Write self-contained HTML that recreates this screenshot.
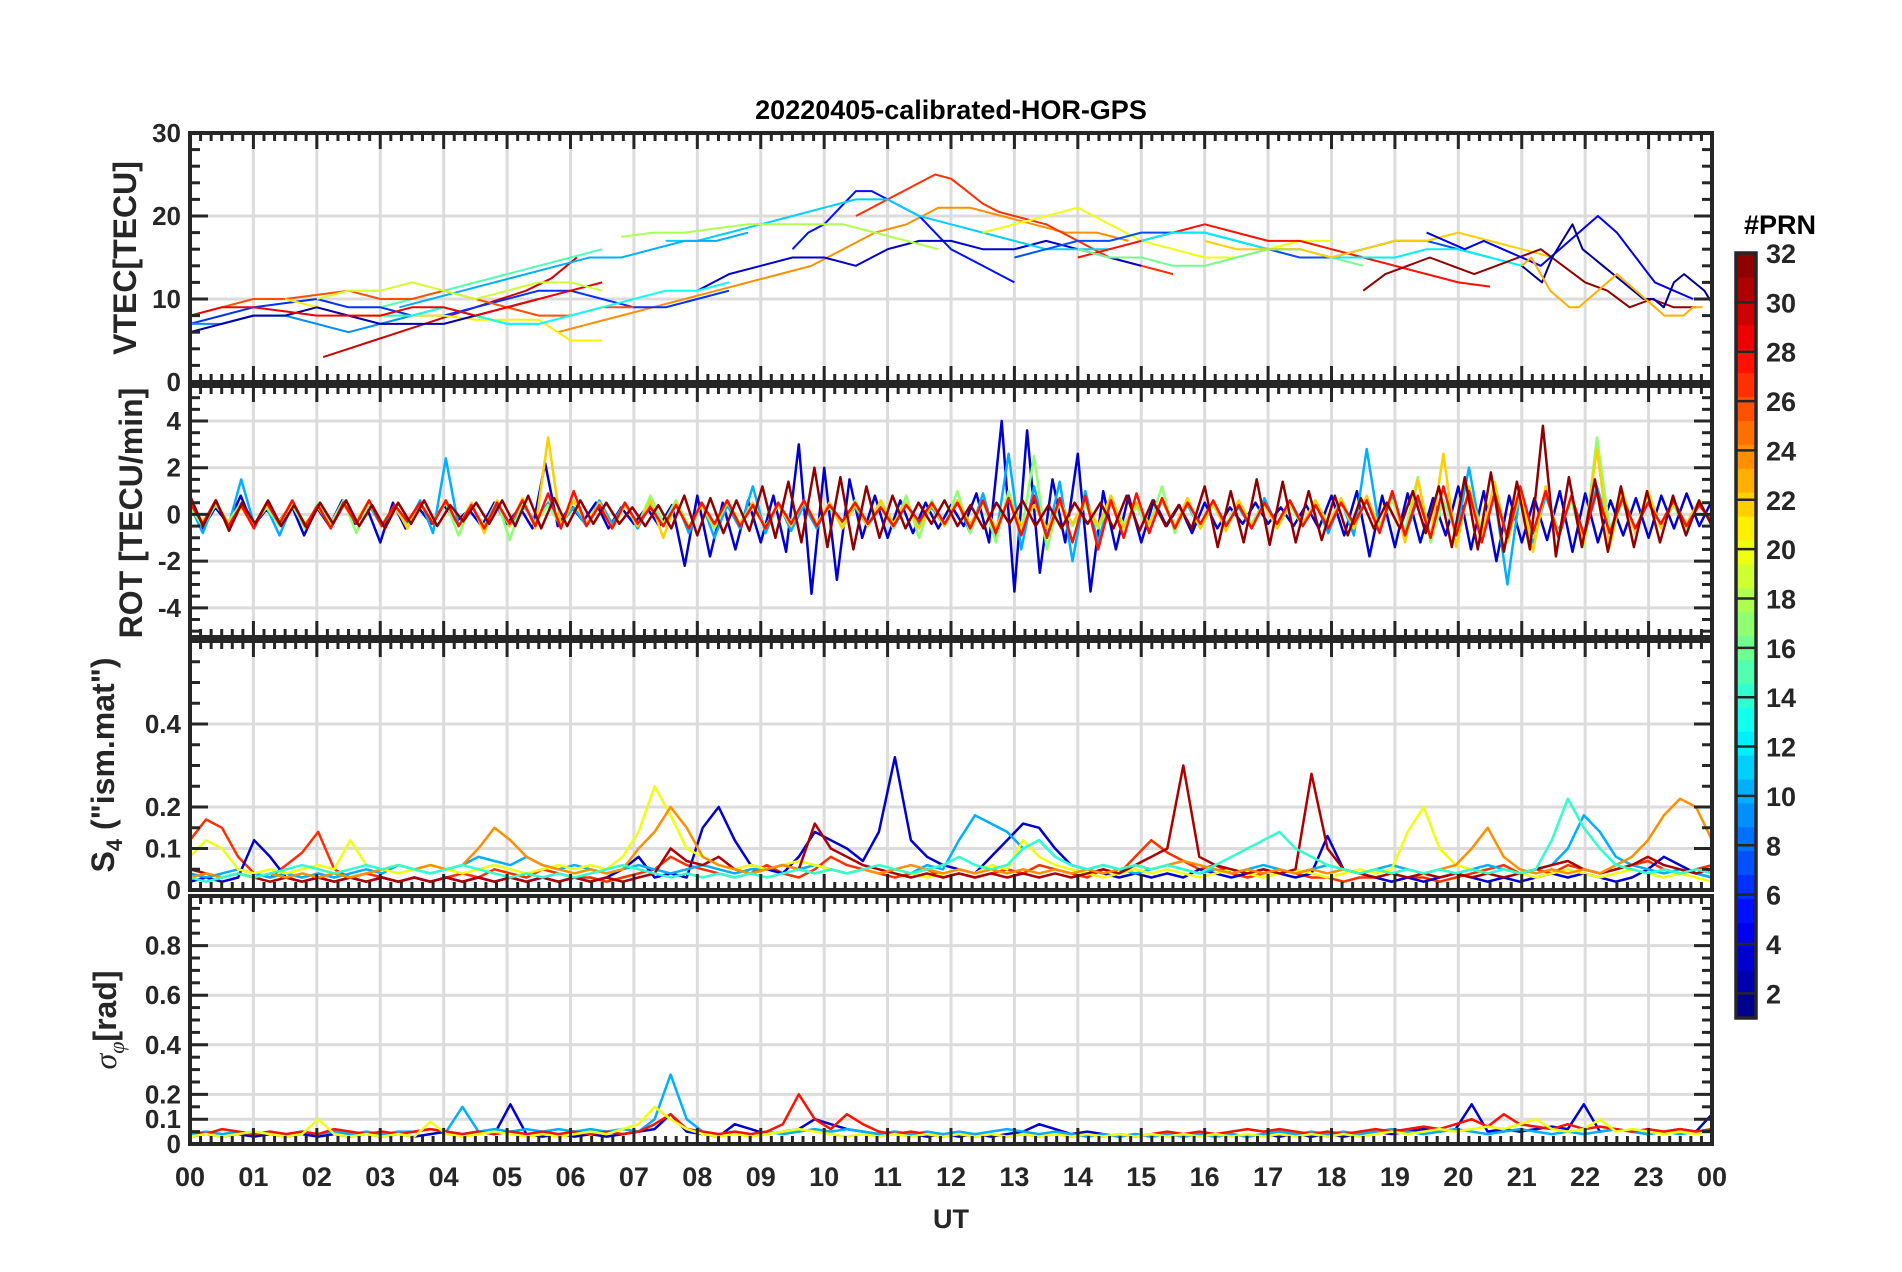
<!DOCTYPE html>
<html><head><meta charset="utf-8">
<style>
html,body{margin:0;padding:0;background:#fff;}
svg{display:block;font-family:"Liberation Sans",sans-serif;font-weight:bold;}
</style></head>
<body>
<svg id="fig" width="1902" height="1272" viewBox="0 0 1902 1272"></svg>
<script>
// ---------- data ----------
const hourLabels = ["00","01","02","03","04","05","06","07","08","09","10","11","12","13","14","15","16","17","18","19","20","21","22","23","00"];
const prnTicks = [2,4,6,8,10,12,14,16,18,20,22,24,26,28,30,32];
const vtecTicks = [0,10,20,30];
const rotTicks = [-4,-2,0,2,4];
const s4Ticks = [0,0.1,0.2,0.4];
const sigTicks = [0,0.1,0.2,0.4,0.6,0.8];

// VTEC arcs: prn, start hour, step hour, values
const vtecPrn = [30,24,27,5,3,11,18,20,15,6,26,9,21,13,2,29,7,28,16,12,22,32,4,1,23,10,19];
const vtecT0 =  [2.1,5.8,10.5,9.5,8,7.5,6.8,12.5,3,0,0,0,1.5,3,0,0,13,14,14,15,16,18.5,19.5,21,21,3.3,2];
const vtecStep =[0.4,0.5,0.25,0.25,0.5,0.5,0.5,0.5,0.5,0.5,0.5,0.5,0.5,0.5,0.5,0.5,0.5,0.5,0.5,0.5,0.5,0.35,0.3,0.16,0.15,0.5,0.5];
const vtecVals = [
 [3,4,5,6,7,8,9,10,11,12.5,15],
 [6,7,8,9,10,11,12,13,14,16,18,19,21,21,20,19,18,18,17],
 [20,21,22,23,24,25,24.5,23,21.5,20.5,20,19.5,19,18,17,16,15,14.5,14,13.5,13],
 [16,18,19,21,23,23,22,21,20,18,16,15,14,13,12],
 [11,13,14,15,15,14,16,17,17,16,16,17,16,15,14],
 [17,17,18,19,20,21,22,22,20,19,18,17,16,16,16],
 [17.5,18,18,18.5,19,19,19,19,18,17,16],
 [18,19,20,21,19,17,16,15,15,16,17,17],
 [9,10,11,12,13,14,15,16],
 [7,8,9,9.5,10,9,9,8,8,9,10,11,11,10,9,9,10,11],
 [8,9,10,10,10.5,11,10,10,11,10,9,8,8,9,9],
 [7,7,8,8,7,6,7,8,9,8,7,7],
 [10,9,8,8,8,8,7.5,7.5,7.5,5,5],
 [8,8,9,8,7,7,8,9,10,11,11,12],
 [6,7,8,8,9,8,7,7,7,8,9,10],
 [8,9,9,8.5,8,8,8,9,9,8,9,10,11,12],
 [15,16,17,17,18,18,18,17,16,15,15,16,17,17,16,15],
 [15,16,17,18,19,18,17,17,16,15,14,13,12,11.5],
 [16,15,15,14,14,15,16,16,15,14],
 [17,18,18,17,16,16,15,15,15,16,16,15,14],
 [17,16,16,16,15,16,17,17,18,17,16,15],
 [11,13,14,15,14,13,14,15,16,14,12,11,9,10,9,9],
 [18,17,16,17,16,15,14,16,18,20,18,15,12,11,10],
 [14,13,12,15,17,19,16,15,14,13,12,11,10,10,9,12,13,12,11,9],
 [14,15,13,11,10,9,9,10,11,12,13,12,11,10,9,8,8,8,9,9],
 [9,10,11,12,13,14,15,15,16,17,17,18],
 [10,11,11,12,11,10,11,12,12,11]
];

// ROT series: prn, values every 0.2 h from 0 to 24
const rotPrn = [3,10,17,22,28,32];
const rotVals = [
 [0.5,-0.6,0.3,-0.4,0.8,-0.5,0.2,-0.3,0.4,-0.9,0.3,-0.5,0.6,-0.4,0.2,-1.2,0.5,-0.6,0.3,-0.4,0.4,-0.3,0.2,-0.5,0.5,-0.4,0.3,-0.6,2.2,-0.5,0.4,-0.3,0.5,-0.6,0.3,-0.4,0.3,-0.5,0.4,-2.2,0.8,-1.8,0.5,-1.5,0.6,-1.2,0.8,-1.6,3.0,-3.4,2.0,-2.8,1.5,-1.0,0.8,-1.0,0.6,-0.8,0.5,-0.6,0.4,-0.5,0.9,-1.2,4.0,-3.3,3.6,-2.5,1.5,-1.2,2.6,-3.3,1.0,-1.5,0.8,-1.2,0.6,-0.5,0.4,-0.8,0.5,-0.6,0.3,-0.4,0.5,-0.4,0.3,-0.5,0.4,-0.6,0.8,-0.9,1.0,-1.8,0.8,-1.4,0.9,-1.2,0.7,-0.9,1.2,-1.5,1.0,-2.0,0.8,-1.2,0.7,-1.1,1.0,-1.6,0.9,-1.2,0.6,-0.9,0.7,-1.0,0.8,-0.6,0.9,-0.5,0.6],
 [0.4,-0.8,0.6,-0.5,1.5,-0.4,0.3,-0.9,0.4,-0.5,0.3,-0.4,0.5,-0.3,0.4,-0.5,0.3,-0.4,0.6,-0.8,2.4,-0.5,0.4,-0.6,0.3,-0.5,0.4,-0.3,0.5,-0.4,0.3,-0.5,0.6,-0.4,0.5,-0.6,0.4,-0.5,0.6,-0.8,0.5,-1.0,0.4,-0.6,1.2,-0.8,0.5,-0.7,0.4,-0.6,0.5,-0.4,0.3,-0.5,0.4,-0.6,0.5,-0.4,0.3,-0.5,0.6,-0.8,0.9,-1.0,2.6,-1.5,1.2,-1.0,1.4,-2.0,1.0,-1.2,0.8,-0.6,0.5,-0.7,0.6,-0.5,0.4,-0.6,0.5,-0.4,0.3,-0.6,0.7,-0.5,0.6,-0.4,0.5,-0.8,0.6,-0.9,2.8,-0.6,0.8,-1.0,0.7,-0.9,0.6,-0.8,2.0,-1.0,0.8,-3.0,1.0,-1.2,0.8,-0.7,0.6,-0.9,1.2,-0.6,0.5,-0.7,0.6,-0.5,0.4,-0.6,0.5,-0.4],
 [0.3,-0.5,0.4,-0.3,0.5,-0.4,0.3,-0.5,0.4,-0.6,0.5,-0.4,0.6,-0.8,0.5,-0.4,0.3,-0.5,0.4,-0.3,0.5,-0.9,0.4,-0.5,0.6,-1.1,0.5,-0.4,0.4,-0.5,0.6,-0.4,0.5,-0.6,0.4,-0.5,0.8,-0.4,0.6,-0.5,0.4,-0.6,0.5,-0.4,0.3,-0.5,0.4,-0.3,0.5,-0.4,0.3,-0.5,0.6,-0.4,0.5,-0.6,0.8,-1.0,0.6,-0.5,1.0,-0.8,0.6,-1.2,1.0,-0.8,2.5,-1.5,0.6,-0.5,0.4,-0.6,0.5,-0.4,0.3,-0.5,1.2,-0.8,0.5,-0.6,0.4,-0.5,0.6,-0.4,0.5,-0.6,0.4,-0.5,0.6,-0.4,0.5,-0.6,0.7,-0.5,0.6,-0.7,1.6,-1.2,0.6,-0.8,0.9,-0.6,0.7,-0.9,0.8,-1.0,1.0,-0.8,0.6,-1.4,3.3,-0.6,0.5,-0.7,0.6,-0.5,0.4,-0.6,0.5,-0.4],
 [0.4,-0.3,0.5,-0.4,0.3,-0.5,0.4,-0.3,0.5,-0.4,0.3,-0.5,0.4,-0.3,0.6,-0.5,0.4,-0.6,0.5,-0.4,0.6,-0.5,0.5,-0.8,0.6,-0.5,0.7,-0.6,3.3,-0.5,0.6,-0.4,0.5,-0.6,0.4,-0.5,0.6,-1.0,0.5,-0.6,0.4,-0.5,0.6,-0.4,0.5,-0.6,0.4,-0.5,0.6,-0.4,0.5,-0.6,0.4,-0.5,0.6,-0.4,0.5,-0.6,0.4,-0.5,0.6,-0.4,0.5,-0.6,0.7,-0.5,0.4,-0.6,0.5,-0.4,0.6,-0.5,0.8,-0.6,0.5,-0.4,0.6,-0.5,0.7,-0.6,0.5,-0.7,0.6,-0.5,0.4,-0.6,0.5,-0.4,0.6,-0.5,0.7,-0.6,0.8,-0.7,1.0,-1.2,1.5,-1.0,2.6,-1.4,1.2,-1.0,1.4,-1.2,1.0,-1.6,1.2,-1.0,0.8,-1.2,2.8,-1.4,1.0,-0.8,1.0,-0.6,0.5,-0.4,0.6,-0.5],
 [0.5,-0.4,0.6,-0.5,0.4,-0.6,0.5,-0.4,0.6,-0.5,0.4,-0.6,0.5,-0.4,0.6,-0.5,0.4,-0.3,0.5,-0.4,0.6,-0.5,0.4,-0.6,0.5,-0.4,0.6,-0.5,0.9,-0.6,1.0,-0.5,0.4,-0.6,0.5,-0.4,0.3,-0.5,0.4,-0.6,0.5,-0.4,0.6,-0.5,0.4,-0.6,0.5,-0.4,0.6,-0.5,0.4,-0.3,0.5,-0.4,0.3,-0.5,0.4,-0.3,0.5,-0.4,0.5,-0.6,0.6,-0.8,0.7,-0.9,0.8,-1.0,0.7,-1.2,0.8,-1.5,0.6,-1.0,0.9,-0.8,0.7,-0.6,0.5,-0.4,0.6,-0.5,0.4,-0.6,0.5,-0.4,0.6,-0.5,0.4,-0.6,0.5,-0.4,0.6,-0.8,1.0,-0.9,0.8,-1.0,1.2,-0.9,1.0,-1.2,0.9,-1.0,1.2,-0.8,1.0,-1.0,0.8,-0.9,1.0,-0.8,0.7,-0.6,0.5,-0.4,0.6,-0.5,0.4,-0.3],
 [0.8,-0.5,0.6,-0.7,0.5,-0.4,0.6,-0.5,0.4,-0.6,0.5,-0.4,0.6,-0.5,0.4,-0.6,0.5,-0.4,0.6,-0.5,0.4,-0.3,0.5,-0.4,0.6,-0.5,0.8,-0.6,0.7,-0.5,0.6,-0.4,0.5,-0.4,0.3,-0.5,0.4,-0.6,0.8,-0.9,0.7,-0.8,0.6,-0.7,1.2,-1.0,1.4,-1.2,2.0,-1.4,1.6,-1.5,1.2,-1.0,0.8,-0.6,0.5,-0.4,0.6,-0.5,0.4,-0.6,0.5,-0.4,0.6,-0.5,0.4,-0.6,0.5,-0.4,0.5,-0.6,0.8,-0.7,0.6,-0.5,0.4,-0.6,1.2,-1.4,1.0,-1.2,1.5,-1.3,1.4,-1.2,1.0,-1.1,0.8,-0.9,0.7,-0.6,0.5,-0.6,1.0,-0.8,1.2,-1.4,1.6,-1.5,1.8,-1.6,1.4,-1.5,3.8,-1.8,1.6,-1.4,1.5,-1.6,1.2,-1.4,1.0,-1.2,0.8,-0.9,0.6,-0.5]
];

// S4 series: prn, values every 0.25 h
const s4Prn = [27,3,10,20,31,24,14];
const s4Vals = [
 [0.12,0.17,0.15,0.08,0.04,0.03,0.06,0.09,0.14,0.05,0.03,0.04,0.03,0.02,0.03,0.02,0.03,0.04,0.03,0.05,0.04,0.03,0.05,0.04,0.03,0.03,0.02,0.03,0.04,0.05,0.08,0.06,0.05,0.04,0.03,0.04,0.06,0.04,0.03,0.05,0.08,0.06,0.05,0.04,0.03,0.04,0.05,0.03,0.04,0.03,0.04,0.05,0.04,0.06,0.05,0.04,0.03,0.05,0.04,0.08,0.12,0.09,0.07,0.05,0.06,0.04,0.03,0.04,0.05,0.04,0.03,0.03,0.02,0.03,0.03,0.02,0.03,0.03,0.02,0.03,0.04,0.05,0.06,0.04,0.05,0.04,0.06,0.05,0.04,0.05,0.06,0.07,0.05,0.04,0.05,0.06],
 [0.02,0.03,0.02,0.03,0.12,0.08,0.03,0.02,0.03,0.02,0.03,0.02,0.03,0.02,0.03,0.02,0.03,0.02,0.03,0.02,0.03,0.02,0.03,0.02,0.03,0.02,0.03,0.05,0.08,0.03,0.04,0.03,0.15,0.2,0.12,0.06,0.05,0.04,0.08,0.14,0.12,0.1,0.07,0.14,0.32,0.12,0.08,0.06,0.05,0.04,0.08,0.12,0.16,0.15,0.1,0.06,0.05,0.04,0.03,0.04,0.03,0.04,0.03,0.05,0.04,0.03,0.04,0.05,0.04,0.03,0.04,0.13,0.05,0.04,0.03,0.02,0.03,0.02,0.03,0.04,0.03,0.02,0.03,0.02,0.03,0.04,0.03,0.04,0.03,0.02,0.03,0.05,0.08,0.06,0.04,0.03],
 [0.04,0.03,0.04,0.05,0.04,0.03,0.04,0.03,0.04,0.03,0.04,0.05,0.04,0.06,0.05,0.04,0.05,0.06,0.08,0.07,0.06,0.08,0.06,0.05,0.06,0.05,0.04,0.05,0.06,0.05,0.04,0.05,0.06,0.05,0.04,0.05,0.05,0.06,0.05,0.06,0.05,0.04,0.05,0.04,0.05,0.04,0.06,0.05,0.12,0.18,0.16,0.14,0.1,0.12,0.08,0.06,0.05,0.06,0.05,0.04,0.05,0.06,0.05,0.04,0.05,0.04,0.05,0.06,0.05,0.04,0.05,0.06,0.05,0.04,0.05,0.06,0.05,0.04,0.05,0.04,0.05,0.06,0.05,0.04,0.05,0.06,0.1,0.18,0.14,0.08,0.06,0.05,0.04,0.05,0.04,0.03],
 [0.08,0.12,0.1,0.05,0.04,0.05,0.04,0.05,0.06,0.05,0.12,0.06,0.05,0.04,0.05,0.06,0.05,0.04,0.05,0.06,0.05,0.04,0.05,0.06,0.05,0.06,0.05,0.08,0.14,0.25,0.18,0.1,0.08,0.06,0.05,0.06,0.05,0.06,0.07,0.06,0.05,0.04,0.05,0.04,0.05,0.04,0.03,0.04,0.05,0.04,0.06,0.05,0.12,0.08,0.06,0.05,0.04,0.03,0.04,0.05,0.04,0.05,0.04,0.03,0.04,0.05,0.04,0.03,0.04,0.05,0.04,0.03,0.04,0.05,0.04,0.05,0.14,0.2,0.1,0.06,0.05,0.04,0.05,0.04,0.03,0.04,0.05,0.04,0.03,0.04,0.05,0.04,0.03,0.04,0.03,0.02],
 [0.05,0.04,0.03,0.04,0.03,0.02,0.03,0.02,0.03,0.02,0.03,0.02,0.03,0.02,0.03,0.02,0.03,0.02,0.03,0.02,0.03,0.02,0.03,0.02,0.03,0.02,0.03,0.02,0.03,0.04,0.1,0.07,0.06,0.08,0.05,0.04,0.05,0.06,0.05,0.16,0.1,0.08,0.06,0.05,0.04,0.03,0.04,0.03,0.04,0.03,0.04,0.03,0.04,0.03,0.04,0.03,0.04,0.05,0.04,0.06,0.08,0.1,0.3,0.08,0.06,0.05,0.04,0.05,0.04,0.05,0.28,0.1,0.05,0.04,0.03,0.04,0.03,0.04,0.03,0.04,0.03,0.04,0.03,0.04,0.05,0.06,0.07,0.05,0.04,0.05,0.06,0.08,0.06,0.05,0.04,0.05],
 [0.03,0.04,0.03,0.04,0.03,0.04,0.03,0.04,0.03,0.04,0.03,0.04,0.05,0.06,0.05,0.06,0.05,0.06,0.1,0.15,0.12,0.08,0.06,0.05,0.04,0.05,0.04,0.05,0.1,0.14,0.2,0.15,0.08,0.06,0.05,0.04,0.05,0.06,0.05,0.04,0.05,0.04,0.05,0.04,0.05,0.06,0.05,0.04,0.05,0.04,0.05,0.04,0.05,0.04,0.05,0.04,0.05,0.04,0.05,0.06,0.05,0.06,0.07,0.06,0.05,0.04,0.05,0.04,0.05,0.04,0.05,0.04,0.05,0.04,0.05,0.04,0.05,0.04,0.05,0.06,0.1,0.15,0.08,0.05,0.04,0.05,0.04,0.05,0.04,0.06,0.08,0.12,0.18,0.22,0.2,0.12],
 [0.03,0.02,0.03,0.04,0.03,0.04,0.05,0.06,0.05,0.04,0.05,0.06,0.05,0.06,0.05,0.04,0.05,0.06,0.05,0.04,0.03,0.04,0.03,0.04,0.03,0.04,0.05,0.06,0.05,0.04,0.03,0.04,0.03,0.04,0.03,0.04,0.03,0.04,0.05,0.04,0.05,0.04,0.05,0.06,0.05,0.04,0.05,0.06,0.08,0.06,0.05,0.06,0.1,0.12,0.08,0.06,0.05,0.06,0.05,0.06,0.05,0.06,0.05,0.04,0.06,0.08,0.1,0.12,0.14,0.1,0.08,0.06,0.05,0.04,0.05,0.04,0.05,0.04,0.05,0.04,0.05,0.04,0.05,0.04,0.05,0.12,0.22,0.15,0.1,0.06,0.05,0.04,0.05,0.04,0.05,0.04]
];

// sigma-phi series: prn, values every 0.25 h
const sigPrn = [3,10,28,20];
const sigVals = [
 [0.03,0.04,0.03,0.04,0.03,0.04,0.03,0.04,0.03,0.04,0.03,0.04,0.03,0.04,0.03,0.04,0.05,0.04,0.05,0.04,0.16,0.04,0.03,0.04,0.03,0.04,0.03,0.04,0.05,0.06,0.12,0.05,0.04,0.03,0.08,0.06,0.04,0.05,0.06,0.1,0.08,0.06,0.05,0.04,0.05,0.04,0.03,0.04,0.03,0.04,0.03,0.04,0.05,0.08,0.06,0.04,0.05,0.04,0.03,0.04,0.03,0.04,0.03,0.04,0.03,0.04,0.03,0.04,0.03,0.04,0.03,0.04,0.03,0.04,0.05,0.04,0.05,0.06,0.05,0.06,0.16,0.05,0.06,0.05,0.06,0.07,0.06,0.16,0.05,0.06,0.05,0.04,0.05,0.06,0.05,0.12],
 [0.04,0.05,0.04,0.05,0.04,0.05,0.04,0.05,0.04,0.05,0.04,0.05,0.04,0.05,0.05,0.06,0.05,0.15,0.05,0.06,0.05,0.06,0.05,0.06,0.05,0.06,0.05,0.06,0.05,0.1,0.28,0.1,0.05,0.04,0.05,0.04,0.05,0.04,0.05,0.06,0.05,0.06,0.05,0.04,0.05,0.04,0.05,0.04,0.05,0.04,0.05,0.06,0.05,0.04,0.05,0.04,0.03,0.04,0.03,0.04,0.03,0.04,0.03,0.04,0.03,0.04,0.03,0.04,0.05,0.04,0.05,0.04,0.05,0.04,0.05,0.06,0.05,0.04,0.05,0.06,0.05,0.04,0.05,0.06,0.05,0.04,0.05,0.04,0.05,0.06,0.05,0.04,0.05,0.04,0.05,0.06],
 [0.05,0.04,0.06,0.05,0.04,0.05,0.04,0.05,0.04,0.06,0.05,0.04,0.05,0.04,0.05,0.06,0.05,0.04,0.05,0.04,0.05,0.04,0.05,0.04,0.05,0.04,0.05,0.04,0.05,0.08,0.12,0.06,0.05,0.04,0.05,0.04,0.05,0.08,0.2,0.1,0.06,0.12,0.08,0.05,0.04,0.05,0.04,0.03,0.04,0.03,0.04,0.03,0.04,0.03,0.04,0.03,0.04,0.03,0.04,0.03,0.04,0.05,0.04,0.05,0.04,0.05,0.06,0.05,0.06,0.05,0.04,0.05,0.04,0.05,0.06,0.05,0.06,0.07,0.06,0.08,0.1,0.07,0.12,0.08,0.07,0.06,0.08,0.06,0.07,0.06,0.05,0.06,0.05,0.06,0.05,0.06],
 [0.03,0.04,0.03,0.04,0.05,0.04,0.03,0.04,0.1,0.04,0.03,0.04,0.03,0.04,0.03,0.09,0.04,0.03,0.04,0.05,0.04,0.03,0.04,0.03,0.04,0.05,0.04,0.06,0.08,0.15,0.1,0.06,0.04,0.03,0.04,0.03,0.04,0.05,0.06,0.05,0.04,0.03,0.04,0.03,0.04,0.03,0.04,0.03,0.04,0.03,0.04,0.03,0.04,0.03,0.04,0.03,0.04,0.03,0.04,0.03,0.04,0.03,0.04,0.03,0.04,0.03,0.04,0.03,0.04,0.03,0.04,0.03,0.04,0.03,0.04,0.05,0.04,0.05,0.06,0.05,0.06,0.07,0.06,0.08,0.1,0.06,0.05,0.06,0.1,0.05,0.06,0.05,0.04,0.05,0.04,0.05]
];

// ---------- rendering ----------
const NS = "http://www.w3.org/2000/svg";
const svg = document.getElementById("fig");
const L = 190, R = 1712;
const panels = [
 {key:"vtec", top:133, bot:382, min:0, max:30, ticks:vtecTicks, minor:2, labels:["0","10","20","30"]},
 {key:"rot", top:386, bot:637, min:-5.25, max:5.5, ticks:rotTicks, minor:0.5, labels:["-4","-2","0","2","4"]},
 {key:"s4", top:641, bot:890, min:0, max:0.6, ticks:s4Ticks, minor:0.05, labels:["0","0.1","0.2","0.4"]},
 {key:"sigma", top:896, bot:1144, min:0, max:1, ticks:sigTicks, minor:0.05, labels:["0","0.1","0.2","0.4","0.6","0.8"]}
];
function xS(h){ return L + (R - L) * h / 24; }
function yS(p, v){ return p.bot - (p.bot - p.top) * (v - p.min) / (p.max - p.min); }
function jet(prn){
  const t = (prn - 0.5) / 32;
  const r = Math.max(0, Math.min(1, 1.5 - Math.abs(4*t - 3)));
  const g = Math.max(0, Math.min(1, 1.5 - Math.abs(4*t - 2)));
  const b = Math.max(0, Math.min(1, 1.5 - Math.abs(4*t - 1)));
  return `rgb(${Math.round(r*255)},${Math.round(g*255)},${Math.round(b*255)})`;
}
function mk(tag, attrs, parent){
  const e = document.createElementNS(NS, tag);
  for (const k in attrs) e.setAttribute(k, attrs[k]);
  (parent || svg).appendChild(e);
  return e;
}
const AX = "#262626";

const title = mk("text", {x:951, y:119, "text-anchor":"middle", "font-size":27, fill:"#000"});
title.textContent = "20220405-calibrated-HOR-GPS";



panels.forEach((p, pi) => {
  const g = mk("g", {});
  
  
  for (let h = 1; h < 24; h++) {
    mk("line", {x1:xS(h), x2:xS(h), y1:p.top, y2:p.bot, stroke:"#dcdcdc", "stroke-width":3}, g);
  }
  p.ticks.forEach(v => {
    if (v > p.min && v < p.max) mk("line", {x1:L, x2:R, y1:yS(p,v), y2:yS(p,v), stroke:"#dcdcdc", "stroke-width":3}, g);
  });
  const dg = mk("g", {}, g);
  
  
  const cid = "clip" + pi;
  const cp = mk("clipPath", {id:cid}, g);
  mk("rect", {x:L, y:p.top, width:R-L, height:p.bot-p.top}, cp);
  dg.setAttribute("clip-path", `url(#${cid})`);
  function drawLine(vals, t0, step, prn, w){
    const pts = vals.map((v,i) => xS(t0 + i*step).toFixed(1) + "," + yS(p, v).toFixed(1)).join(" ");
    const pl = mk("polyline", {points:pts, fill:"none", stroke:jet(prn), "stroke-width":w, "stroke-linejoin":"round"}, dg);
    
    
  }
  if (p.key === "vtec") vtecVals.forEach((vals,i) => drawLine(vals, vtecT0[i], vtecStep[i], vtecPrn[i], 2));
  if (p.key === "rot") rotVals.forEach((vals,i) => drawLine(vals, 0, 24/(vals.length-1), rotPrn[i], 2.5));
  if (p.key === "s4") s4Vals.forEach((vals,i) => drawLine(vals, 0, 24/(vals.length-1), s4Prn[i], 2.5));
  if (p.key === "sigma") sigVals.forEach((vals,i) => drawLine(vals, 0, 24/(vals.length-1), sigPrn[i], 2.5));
  for (let m = 0; m <= 144; m++) {
    const x = xS(m/6), major = m % 6 === 0, len = major ? 16 : 8;
    mk("line", {x1:x, x2:x, y1:p.top, y2:p.top+len, stroke:AX, "stroke-width":3}, g);
    mk("line", {x1:x, x2:x, y1:p.bot, y2:p.bot-len, stroke:AX, "stroke-width":3}, g);
  }
  const n = Math.round((p.max - p.min) / p.minor);
  for (let k = 0; k <= n + 1; k++) {
    const v = Math.ceil(p.min / p.minor) * p.minor + k * p.minor;
    if (v > p.max + 1e-9) break;
    const y = yS(p, v);
    const isMajor = p.ticks.some(t => Math.abs(t - v) < 1e-6);
    const len = isMajor ? 18 : 10;
    mk("line", {x1:L, x2:L+len, y1:y, y2:y, stroke:AX, "stroke-width":3}, g);
    mk("line", {x1:R, x2:R-len, y1:y, y2:y, stroke:AX, "stroke-width":3}, g);
  }
  mk("rect", {x:L, y:p.top, width:R-L, height:p.bot-p.top, fill:"none", stroke:AX, "stroke-width":4}, g);
  p.ticks.forEach((v,i) => {
    const t = mk("text", {x:L-9, y:yS(p,v)+9, "text-anchor":"end", "font-size":26, fill:AX}, g);
    t.textContent = p.labels[i];
    
    
  });
});

hourLabels.forEach((lab, i) => {
  const t = mk("text", {x:xS(i), y:1186, "text-anchor":"middle", "font-size":27, fill:AX});
  t.textContent = lab;
  
  
});
const ut = mk("text", {x:951, y:1228, "text-anchor":"middle", "font-size":27, fill:AX});
ut.textContent = "UT";



function yTitle(cx, cy, html, name){
  const t = mk("text", {x:0, y:0, "text-anchor":"middle", "font-size":32, fill:AX, transform:`translate(${cx},${cy}) rotate(-90)`});
  t.innerHTML = html;
  
  
}
yTitle(136, 258, "VTEC[TECU]", "vtec-y-title");
yTitle(142, 513, "ROT [TECU/min]", "rot-y-title");
yTitle(114, 765, 'S<tspan font-size="22" dy="8">4</tspan><tspan dy="-8"> ("ism.mat")</tspan>', "s4-y-title");
yTitle(116, 1020, '<tspan font-family="Liberation Serif,serif" font-style="italic" font-weight="normal">σ</tspan><tspan font-size="22" dy="8" font-family="Liberation Serif,serif" font-style="italic" font-weight="normal">φ</tspan><tspan dy="-8">[rad]</tspan>', "sigma-y-title");

const cbX = 1736, cbW = 20, cbTop = 253, cbBot = 1018;
const cb = mk("g", {});


function cbY(v){ return cbBot - (cbBot - cbTop) * (v - 1) / 31; }
for (let k = 1; k <= 32; k++) {
  const y1 = cbBot - (cbBot - cbTop) * (k - 1) / 32, y0 = cbBot - (cbBot - cbTop) * k / 32;
  mk("rect", {x:cbX, y:y0, width:cbW, height:y1-y0+0.6, fill:jet(k)}, cb);
}
prnTicks.forEach(v => {
  mk("line", {x1:cbX, x2:cbX+cbW, y1:cbY(v), y2:cbY(v), stroke:AX, "stroke-width":2.5}, cb);
  const t = mk("text", {x:cbX+30, y:cbY(v)+10, "font-size":27, fill:AX}, cb);
  t.textContent = v;
  
  
});
mk("rect", {x:cbX, y:cbTop, width:cbW, height:cbBot-cbTop, fill:"none", stroke:AX, "stroke-width":3.5}, cb);
const prnT = mk("text", {x:1780, y:234, "text-anchor":"middle", "font-size":27, fill:"#000"});
prnT.textContent = "#PRN";


</script>
</body></html>
